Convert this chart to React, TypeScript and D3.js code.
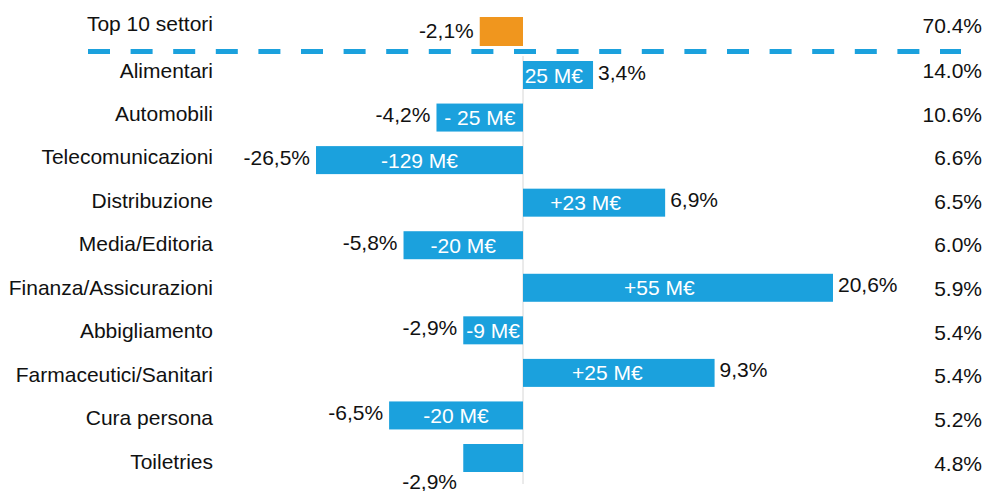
import React from "react";
import * as d3 from "d3";

const topLabel = "Top 10 settori";
const topChange = -2.1;
const topChangeLabel = "-2,1%";
const topShare = "70.4%";

const categories = [
  "Alimentari",
  "Automobili",
  "Telecomunicazioni",
  "Distribuzione",
  "Media/Editoria",
  "Finanza/Assicurazioni",
  "Abbigliamento",
  "Farmaceutici/Sanitari",
  "Cura persona",
  "Toiletries",
];
const changes = [3.4, -4.2, -26.5, 6.9, -5.8, 20.6, -2.9, 9.3, -6.5, -2.9];
const changeLabels = ["3,4%", "-4,2%", "-26,5%", "6,9%", "-5,8%", "20,6%", "-2,9%", "9,3%", "-6,5%", "-2,9%"];
const euroLabels = ["25 M€", "- 25 M€", "-129 M€", "+23 M€", "-20 M€", "+55 M€", "-9 M€", "+25 M€", "-20 M€", ""];
const shares = ["14.0%", "10.6%", "6.6%", "6.5%", "6.0%", "5.9%", "5.4%", "5.4%", "5.2%", "4.8%"];

const W = 987;
const H = 491;
const BLUE = "#1ba1dd";
const ORANGE = "#f0961e";
const TEXT = "#111";
const FONT = "'Liberation Sans', Arial, Helvetica, sans-serif";
const FS = 21;

export default function App() {
  const x0 = 523;
  const k = 20.6;
  // compressed (broken) scale for the two very long bars
  const x = d3
    .scaleLinear()
    .domain([-30, -7, 0, 10, 25])
    .range([x0 - 7 * k - 23 * 3.22, x0 - 7 * k, x0, x0 + 10 * k, x0 + 10 * k + 15 * 9.81]);

  const yBar = d3.scalePoint<string>().domain(categories).range([75, 458]);
  const yLabel = d3.scalePoint<string>().domain(categories).range([70, 461]);
  const yShare = d3.scalePoint<string>().domain(categories).range([70.5, 463]);

  const barH = 28;
  const labelX = 213;
  const shareX = 982;

  return (
    <svg
      width={W}
      height={H}
      style={{ position: "absolute", left: 0, top: 0, background: "#fff" }}
      fontFamily={FONT}
      fontSize={FS}
    >
      {/* zero axis */}
      <line x1={x0} x2={x0} y1={56} y2={484} stroke="#d6d6d6" strokeWidth={1} />

      {/* top row */}
      <text x={labelX} y={23} textAnchor="end" dominantBaseline="central" fill={TEXT}>
        {topLabel}
      </text>
      <rect
        x={Math.min(x(topChange), x0)}
        y={17}
        width={Math.abs(x(topChange) - x0)}
        height={29}
        fill={ORANGE}
      />
      <text x={x(topChange) - 6} y={30} textAnchor="end" dominantBaseline="central" fill={TEXT}>
        {topChangeLabel}
      </text>
      <text x={shareX} y={25} textAnchor="end" dominantBaseline="central" fill={TEXT}>
        {topShare}
      </text>

      {/* dashed separator */}
      <line
        x1={88}
        x2={961}
        y1={51.5}
        y2={51.5}
        stroke={BLUE}
        strokeWidth={5}
        strokeDasharray="22 20.6"
      />

      {categories.map((c, i) => {
        const by = yBar(c) as number;
        const v = changes[i];
        const xv = x(v);
        const bx = Math.min(xv, x0);
        const bw = Math.abs(xv - x0);
        const below = euroLabels[i] === "";
        const euroX = v >= 0 ? x0 + bw * 0.44 : bx + bw / 2;
        return (
          <g key={c}>
            <text x={labelX} y={yLabel(c)} textAnchor="end" dominantBaseline="central" fill={TEXT}>
              {c}
            </text>
            <rect x={bx} y={by - barH / 2} width={bw} height={barH} fill={BLUE} />
            {euroLabels[i] && (
              <text
                x={euroX}
                y={by}
                textAnchor="middle"
                dominantBaseline="central"
                fill="#fff"
              >
                {euroLabels[i]}
              </text>
            )}
            {below ? (
              <text x={x0 - 66} y={by + 23} textAnchor="end" dominantBaseline="central" fill={TEXT}>
                {changeLabels[i]}
              </text>
            ) : (
              <text
                x={v >= 0 ? xv + 5 : xv - 6}
                y={by - 3}
                textAnchor={v >= 0 ? "start" : "end"}
                dominantBaseline="central"
                fill={TEXT}
              >
                {changeLabels[i]}
              </text>
            )}
            <text x={shareX} y={yShare(c)} textAnchor="end" dominantBaseline="central" fill={TEXT}>
              {shares[i]}
            </text>
          </g>
        );
      })}
    </svg>
  );
}
